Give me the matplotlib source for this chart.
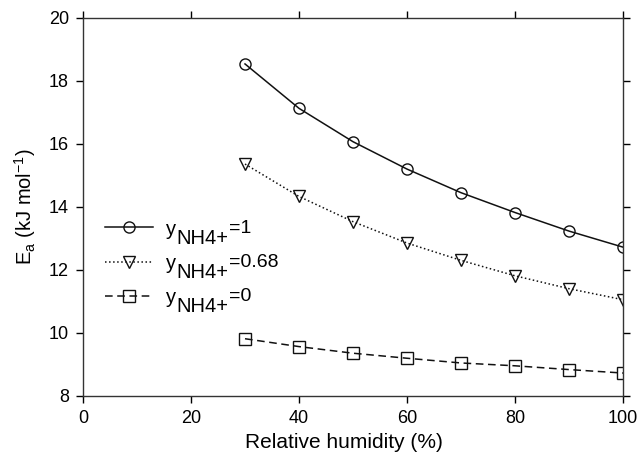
import numpy as np
import matplotlib.pyplot as plt

plt.rcParams['font.family'] = ['Liberation Sans', 'DejaVu Sans']
plt.rcParams['mathtext.fontset'] = 'custom'
plt.rcParams['mathtext.rm'] = 'Liberation Sans'

# данные с рисунка
rh = [30, 40, 50, 60, 70, 80, 90, 100]
ea_y1 = [18.54, 17.13, 16.07, 15.20, 14.45, 13.82, 13.23, 12.72]
ea_y068 = [15.36, 14.33, 13.53, 12.85, 12.30, 11.81, 11.40, 11.05]
ea_y0 = [9.81, 9.56, 9.35, 9.19, 9.04, 8.95, 8.83, 8.72]
sub_txt = "NH4+"
sup_txt = ["=1", "=0.68", "=0"]

fig = plt.figure(figsize=(6.38, 4.58), dpi=100)
ax = fig.add_axes([83/638, 1 - 395.7/458, 540/638, 377.7/458])

mk = dict(markerfacecolor='none', markeredgecolor='#111111', markersize=8,
          markeredgewidth=1.0, color='#111111')
ax.plot(rh, ea_y1, '-', marker='o', lw=1.1, label="y", **mk)
ax.plot(rh, ea_y068, ':', marker='v', lw=1.1, label="y", **mk)
ax.plot(rh, ea_y0, '--', marker='s', lw=1.1, dashes=(5, 3), label="y", **mk)

ax.set_xlim(0, 100)
ax.set_ylim(8, 20)
ax.set_xticks(np.arange(0, 101, 20))
ax.set_yticks(np.arange(8, 21, 2))
ax.tick_params(direction='out', length=5, width=1, labelsize=13, pad=5,
               top=True, right=True, labeltop=False, labelright=False)
for s in ax.spines.values():
    s.set_linewidth(1.0)
    s.set_color('#333333')

ax.set_xlabel("Relative humidity (%)", fontsize=15, labelpad=6)
ax.xaxis.set_label_coords(0.483, -0.1)
ax.set_ylabel(r"E$_\mathregular{a}$ (kJ mol$^\mathregular{-1}$)", fontsize=14.5, labelpad=8)

# легенда: y с индексом NH4+ и надстрочным значением
leg = ax.legend(loc='center left', bbox_to_anchor=(0.041, 0.351), frameon=False,
                fontsize=14.5, handlelength=2.4, handletextpad=0.6, labelspacing=0.75,
                borderpad=0, borderaxespad=0)
for t, sp in zip(leg.get_texts(), sup_txt):
    a = ax.annotate(sub_txt, xy=(1, 0), xycoords=t, xytext=(0.3, -7),
                    textcoords='offset points', ha='left', va='bottom',
                    fontsize=14.5, zorder=6)
    ax.annotate(sp, xy=(1, 0), xycoords=a, xytext=(0.3, 8.3),
                textcoords='offset points', ha='left', va='bottom',
                fontsize=14, zorder=7)

fig.canvas.draw()
fig.savefig("out.png", dpi=100)
